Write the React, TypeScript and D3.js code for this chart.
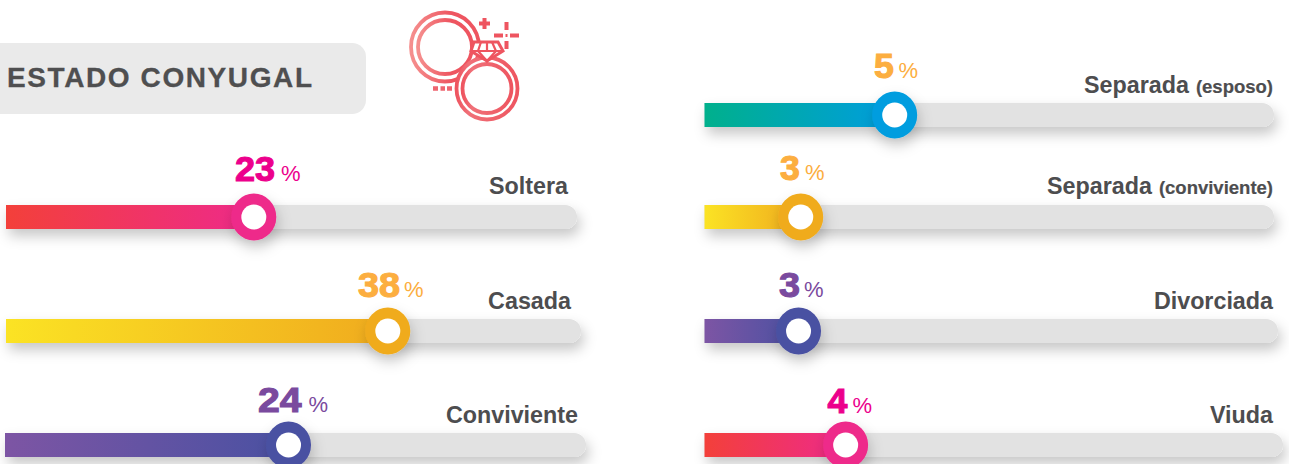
import React from "react";
import * as d3 from "d3";

// ---- data ----
const categories = ["Soltera", "Casada", "Conviviente", "Separada", "Separada", "Divorciada", "Viuda"];
const qualifiers = ["", "", "", "(esposo)", "(conviviente)", "", ""];
const percentLabels = [23, 38, 24, 5, 3, 3, 4];
// how far each slider is filled in the picture (share of its track, %)
const sliderFill = [43.4, 66.4, 48.8, 33.4, 16.9, 16.4, 24.4];

// ---- layout ----
const trackX0 = [6, 6, 5, 704.5, 704.5, 704.5, 704.5];
const trackX1 = [577, 581, 586, 1274, 1274, 1278, 1283];
const trackY = [205, 319, 433, 103, 205, 319, 433];
const labelRight = [568, 571, 578, 1273, 1273, 1273, 1273];
const labelBase = [193.5, 308.5, 422.5, 92.5, 193.5, 308.5, 422.5];
const numX = [235, 358, 258, 874, 780, 779, 827.5];
const numBase = [181, 297, 412, 78, 180, 297, 413];
const numStretch = [1.03, 1.08, 1.12, 1.02, 1.02, 1.08, 1.02];
const pctX = [281, 404, 308.5, 898.5, 805, 804, 852.5];
const themes = ["red", "yellow", "purple", "teal", "yellow", "purple", "red"];

const grads: Record<string, [string, string]> = {
  red: ["#f3403a", "#ee2a8a"],
  yellow: ["#fbe324", "#f0ab1e"],
  purple: ["#7d55a4", "#4a51a2"],
  teal: ["#00b08c", "#009ddf"],
};
const knob: Record<string, string> = { red: "#ee2a8a", yellow: "#f0ab1e", purple: "#4a51a2", teal: "#009ddf" };
const textCol = ["#ec008c", "#fcae40", "#7a4a9e", "#fcae40", "#fcae40", "#7a4a9e", "#ec008c"];

const TRACK_H = 24;
const LABEL = "#4d4d4f";
const FONT = "'Liberation Sans', Arial, sans-serif";

function Icon() {
  const c1: [number, number] = [445, 47];
  const c2: [number, number] = [487, 88.5];
  const sw = 3.8;
  return (
    <g fill="none" stroke="url(#ico)" strokeWidth={sw}>
      <ellipse cx={c1[0]} cy={c1[1]} rx={34} ry={34.5} />
      <circle cx={c1[0]} cy={c1[1]} r={27} />
      <ellipse cx={c2[0]} cy={c2[1]} rx={30.5} ry={31} fill="#fff" stroke="url(#ico2)" />
      <circle cx={c2[0]} cy={c2[1]} r={24.5} stroke="url(#ico2)" />
      <path d="M474 42 H498 L503 51 L487 61 L471 51 Z" fill="#fff" stroke="#ee5560" strokeWidth={3} />
      <path d="M471 51 H503 M481 42 L478 51 L487 61 L496 51 L492 42 M487 42 V51" stroke="#ee5560" strokeWidth={2.2} />
      <g stroke="#ee5560" strokeWidth={4}>
        <path d="M479 23.5 H490 M484.5 18 V29" />
        <path d="M494 35.5 H503 M510 35.5 H519 M506.5 22 V30 M506.5 41 V49" />
        <path d="M505.5 35.5 H507.5" strokeWidth={3} />
        <path d="M433 88.5 H438 M440.5 88.5 H445 M447 88.5 H452" stroke="#ee6670" strokeWidth={4.5} />
      </g>
    </g>
  );
}

export default function App() {
  return (
    <svg width={1289} height={464} style={{ position: "absolute", left: 0, top: 0, background: "#fff" }} fontFamily={FONT}>
      <defs>
        {Object.entries(grads).map(([k, [a, b]]) => (
          <linearGradient id={`g-${k}`} key={k} x1="0" x2="1" y1="0" y2="0">
            <stop offset="0" stopColor={a} />
            <stop offset="1" stopColor={b} />
          </linearGradient>
        ))}
        <linearGradient id="ico" x1="0" x2="1" y1="0" y2="0">
          <stop offset="0" stopColor="#f58f8e" />
          <stop offset="0.6" stopColor="#ee5560" />
        </linearGradient>
        <linearGradient id="ico2" x1="0" x2="1" y1="0" y2="0">
          <stop offset="0" stopColor="#ee5560" />
          <stop offset="0.2" stopColor="#f07078" />
          <stop offset="1" stopColor="#ee5560" />
        </linearGradient>
        <filter id="sh" x="-10%" y="-100%" width="120%" height="350%">
          <feDropShadow dx="3" dy="7" stdDeviation="6.5" floodColor="#000" floodOpacity="0.22" />
        </filter>
        <filter id="shk" x="-60%" y="-60%" width="220%" height="220%">
          <feDropShadow dx="2" dy="7" stdDeviation="7" floodColor="#000" floodOpacity="0.2" />
        </filter>
      </defs>

      <rect x={-20} y={43} width={386} height={71} rx={14} fill="#eaeaea" />
      <text x={7} y={86.5} fontSize={28} fontWeight={700} letterSpacing={1.6} fill="#4f4f50" stroke="#4f4f50" strokeWidth={0.3}>ESTADO CONYUGAL</text>
      <Icon />

      {categories.map((cat, i) => {
        const x = d3.scaleLinear().domain([0, 100]).range([trackX0[i], trackX1[i]]);
        const cx = x(sliderFill[i]);
        const y = trackY[i];
        const cy = y + TRACK_H / 2;
        const th = themes[i];
        return (
          <g key={i}>
            <path
              d={`M${trackX0[i]} ${y} H${trackX1[i] - 12} a12 12 0 0 1 0 24 H${trackX0[i]} Z`}
              fill="#e2e2e2"
              filter="url(#sh)"
            />
            <rect x={trackX0[i]} y={y} width={cx - trackX0[i]} height={TRACK_H} fill={`url(#g-${th})`} />
            <ellipse cx={cx} cy={cy} rx={22.5} ry={23.5} fill={knob[th]} filter="url(#shk)" />
            <circle cx={cx} cy={cy} r={12.5} fill="#fff" />
            <text x={labelRight[i]} y={labelBase[i]} textAnchor="end" fontSize={23.3} fontWeight={700} fill={LABEL}>
              {cat}
              {qualifiers[i] ? <tspan fontSize={18.5} dx={7} stroke={LABEL} strokeWidth={0.2}>{qualifiers[i]}</tspan> : null}
            </text>
            <text
              transform={`translate(${numX[i]},${numBase[i]}) scale(${numStretch[i]},1)`}
              fontSize={35}
              fontWeight={700}
              fill={textCol[i]}
              stroke={textCol[i]}
              strokeWidth={1.1}
            >
              {percentLabels[i]}
            </text>
            <text x={pctX[i]} y={numBase[i]} fontSize={22} fill={textCol[i]}>%</text>
          </g>
        );
      })}
    </svg>
  );
}
